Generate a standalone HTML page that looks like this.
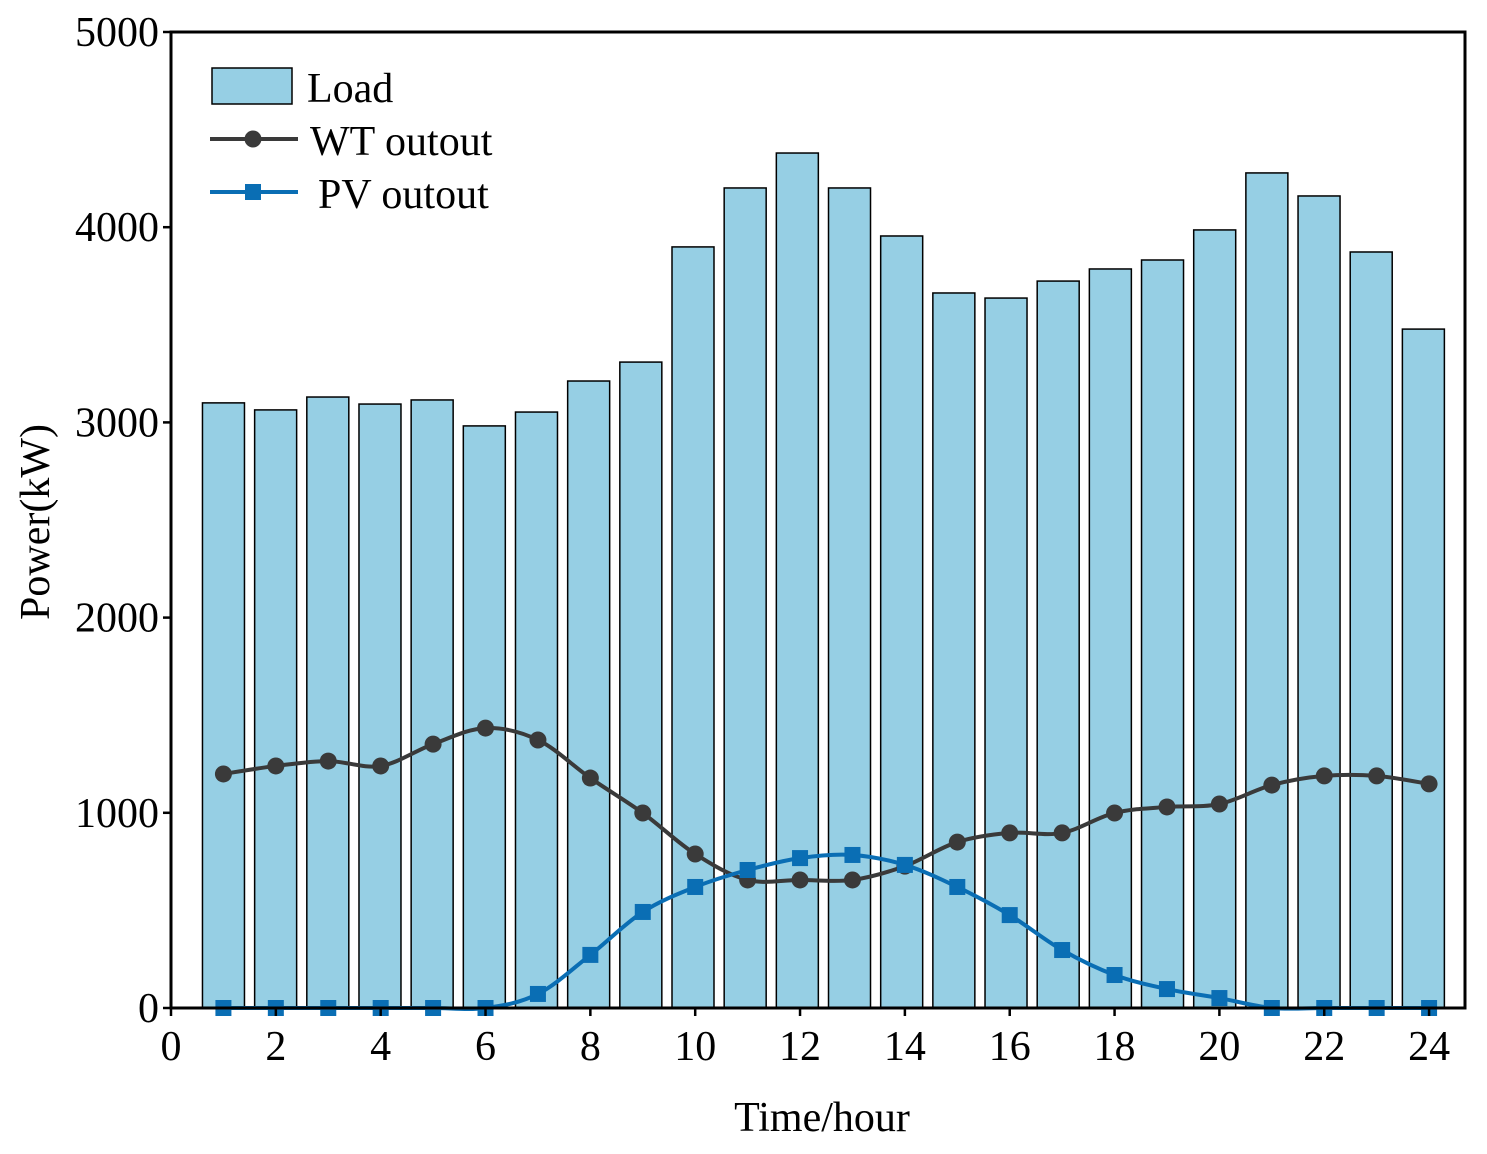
<!DOCTYPE html>
<html><head><meta charset="utf-8"><style>
body{margin:0;background:#fff}
svg text{font-family:"Liberation Serif",serif;fill:#000}
</style></head><body>
<svg id="c" width="1487" height="1149"></svg>
<script>
const hours=[1,2,3,4,5,6,7,8,9,10,11,12,13,14,15,16,17,18,19,20,21,22,23,24];
const load=[3100,3064,3130,3094,3115,2982,3053,3212,3309,3899,4201,4380,4201,3955,3663,3637,3724,3786,3832,3986,4278,4160,3873,3478];
const wt=[1199,1240,1265,1240,1352,1434,1373,1178,999,789,656,656,656,727,850,897,897,999,1030,1045,1142,1189,1189,1148];
const pv=[0,0,0,0,0,0,72,272,492,620,707,768,784,733,620,476,297,169,97,51,0,0,0,0];
const xTicks=[0,2,4,6,8,10,12,14,16,18,20,22,24];
const yTicks=[0,1000,2000,3000,4000,5000];
const L=171,R=1465,T=32,B=1008;
const X=v=>L+v*52.42, Y=v=>B-(v/5000)*(B-T);
const XB=v=>L+v*52.17+0.3;
const svg=document.getElementById('c');const NS='http://www.w3.org/2000/svg';
function mk(t,a,p){const e=document.createElementNS(NS,t);for(const k in a)e.setAttribute(k,a[k]);(p||svg).appendChild(e);return e;}
hours.forEach((h,i)=>{const e=mk('rect',{x:XB(h)-21,y:Y(load[i]),width:42,height:B-Y(load[i]),fill:'#96cfe4',stroke:'#000','stroke-width':1.5});

});
function smooth(vals){const p=vals.map((v,i)=>[X(hours[i]),Y(v)]);let d='M'+p[0].join(',');
for(let i=0;i<p.length-1;i++){const p0=p[i-1]||p[i],p1=p[i],p2=p[i+1],p3=p[i+2]||p2;
d+=` C${p1[0]+(p2[0]-p0[0])/6},${p1[1]+(p2[1]-p0[1])/6} ${p2[0]-(p3[0]-p1[0])/6},${p2[1]-(p3[1]-p1[1])/6} ${p2[0]},${p2[1]}`;}return d;}
const wl=mk('path',{d:smooth(wt),fill:'none',stroke:'#3a3a3a','stroke-width':4});


wt.forEach((v,i)=>{const e=mk('circle',{cx:X(hours[i]),cy:Y(v),r:8.5,fill:'#3a3a3a'});

});
const pl=mk('path',{d:smooth(pv),fill:'none',stroke:'#0a6eb4','stroke-width':4});


pv.forEach((v,i)=>{const e=mk('rect',{x:X(hours[i])-8,y:Y(v)-8,width:16,height:16,fill:'#0a6eb4'});

});
const fr=mk('rect',{x:L,y:T,width:R-L,height:B-T,fill:'none',stroke:'#000','stroke-width':3});


xTicks.forEach(t=>{mk('line',{x1:X(t),x2:X(t),y1:B,y2:B+8,stroke:'#000','stroke-width':2.5});
const e=mk('text',{x:X(t),y:B+52,'font-size':42,'text-anchor':'middle'});e.textContent=t;

});
yTicks.forEach(t=>{mk('line',{x1:L-8,x2:L,y1:Y(t),y2:Y(t),stroke:'#000','stroke-width':2.5});
const e=mk('text',{x:L-12,y:Y(t)+14,'font-size':42,'text-anchor':'end'});e.textContent=t;

});
</script>
<svg width="1487" height="1149" style="position:absolute;left:0;top:0">
<text x="822" y="1131" font-size="42" text-anchor="middle">Time/hour</text>
<text transform="translate(49,522) rotate(-90)" font-size="42" text-anchor="middle">Power(kW)</text>
<g>
<rect x="212" y="68" width="80" height="36" fill="#96cfe4" stroke="#000" stroke-width="1.5"/>
<text x="307" y="102" font-size="42">Load</text>
<line x1="210" x2="298" y1="139" y2="139" stroke="#3a3a3a" stroke-width="4"/>
<circle cx="253" cy="139" r="8.5" fill="#3a3a3a"/>
<text x="310" y="155" font-size="42">WT outout</text>
<line x1="210" x2="298" y1="192" y2="192" stroke="#0a6eb4" stroke-width="4"/>
<rect x="245" y="184" width="16" height="16" fill="#0a6eb4"/>
<text x="318" y="208" font-size="42">PV outout</text>
</g>
</svg>
</body></html>
